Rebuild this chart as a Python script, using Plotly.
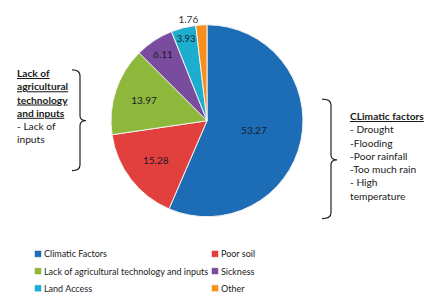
import plotly.graph_objects as go

# page body has an 8px default margin; lay the figure out in window pixels
OFF = 8
FW, FH = 422, 290

categories = ["Climatic Factors", "Poor soil", "Lack of agricultural technology and inputs",
              "Sickness", "Land Access", "Other"]
values = [53.27, 15.28, 13.97, 6.11, 3.93, 1.76]
colors = ["#1C6DB6", "#E2403D", "#8DB83B", "#7A4C9E", "#1DAECF", "#F7901E"]
text_pos = ["inside", "inside", "inside", "inside", "inside", "outside"]

left_note = ["<b><u>Lack of</u></b>", "<b><u>agricultural</u></b>", "<b><u>technology</u></b>",
             "<b><u>and inputs</u></b>", "- Lack of", "inputs"]
right_note = ["<b><u>CLimatic factors</u></b>", "- Drought", "-Flooding", "-Poor rainfall",
              "-Too much rain", "- High", "temperature"]

FONT = "Lato, Open Sans, sans-serif"


def fx(x):
    return (x - OFF) / FW


def fy(y):
    return 1 - (y - OFF) / FH


def px(x, y):
    return f"{fx(x):.5f},{fy(y):.5f}"


def brace(xh, xv, xt, y0, ym, y1, r=6):
    return (f"M {px(xh, y0)} Q {px(xv, y0)} {px(xv, y0 + r)} L {px(xv, ym - 5)} "
            f"Q {px(xv, ym)} {px(xt, ym)} Q {px(xv, ym)} {px(xv, ym + 5)} "
            f"L {px(xv, y1 - r)} Q {px(xv, y1)} {px(xh, y1)}")


fig = go.Figure(go.Pie(
    labels=categories,
    values=values,
    sort=False,
    direction="clockwise",
    rotation=0,
    marker=dict(colors=colors, line=dict(color="#F2F2F2", width=1)),
    texttemplate="%{value}",
    textposition=text_pos,
    insidetextorientation="horizontal",
    textfont=dict(family=FONT, size=10, color="#1A1A2A"),
    outsidetextfont=dict(family=FONT, size=10, color="#333333"),
    hoverinfo="label+value",
    showlegend=False,
    domain=dict(x=[fx(109), fx(305)], y=[fy(215), fy(19)]),
))

fig.add_shape(type="path", xref="paper", yref="paper",
              path=brace(72, 80, 86, 65, 117, 168), line=dict(color="#222222", width=1.2))
fig.add_shape(type="path", xref="paper", yref="paper",
              path=brace(322, 331, 337, 95, 157, 217), line=dict(color="#222222", width=1.2))

fig.add_annotation(xref="paper", yref="paper", x=fx(15), y=fy(60),
                   xanchor="left", yanchor="top", align="left", showarrow=False,
                   text="<br>".join(left_note),
                   font=dict(family=FONT, size=10.2, color="#1A1A1A"))
fig.add_annotation(xref="paper", yref="paper", x=fx(348), y=fy(104),
                   xanchor="left", yanchor="top", align="left", showarrow=False,
                   text="<br>".join(right_note),
                   font=dict(family=FONT, size=10.2, color="#1A1A1A"))

# legend: two columns, three rows
for i, (cat, col) in enumerate(zip(categories, colors)):
    c, r = i % 2, i // 2
    x0 = 35 + 177 * c
    yc = 253 + 17.5 * r
    fig.add_shape(type="rect", xref="paper", yref="paper",
                  x0=fx(x0), x1=fx(x0 + 6), y0=fy(yc + 3), y1=fy(yc - 3),
                  fillcolor=col, line=dict(color=col, width=0.5))
    fig.add_annotation(xref="paper", yref="paper", x=fx(x0 + 7), y=fy(yc),
                       xanchor="left", yanchor="middle", showarrow=False, text=cat,
                       font=dict(family=FONT, size=9, color="#222222"))

fig.update_layout(
    width=FW, height=FH,
    margin=dict(l=0, r=0, t=0, b=0),
    paper_bgcolor="white",
    plot_bgcolor="white",
    showlegend=False,
)

fig.write_html("out.html")
